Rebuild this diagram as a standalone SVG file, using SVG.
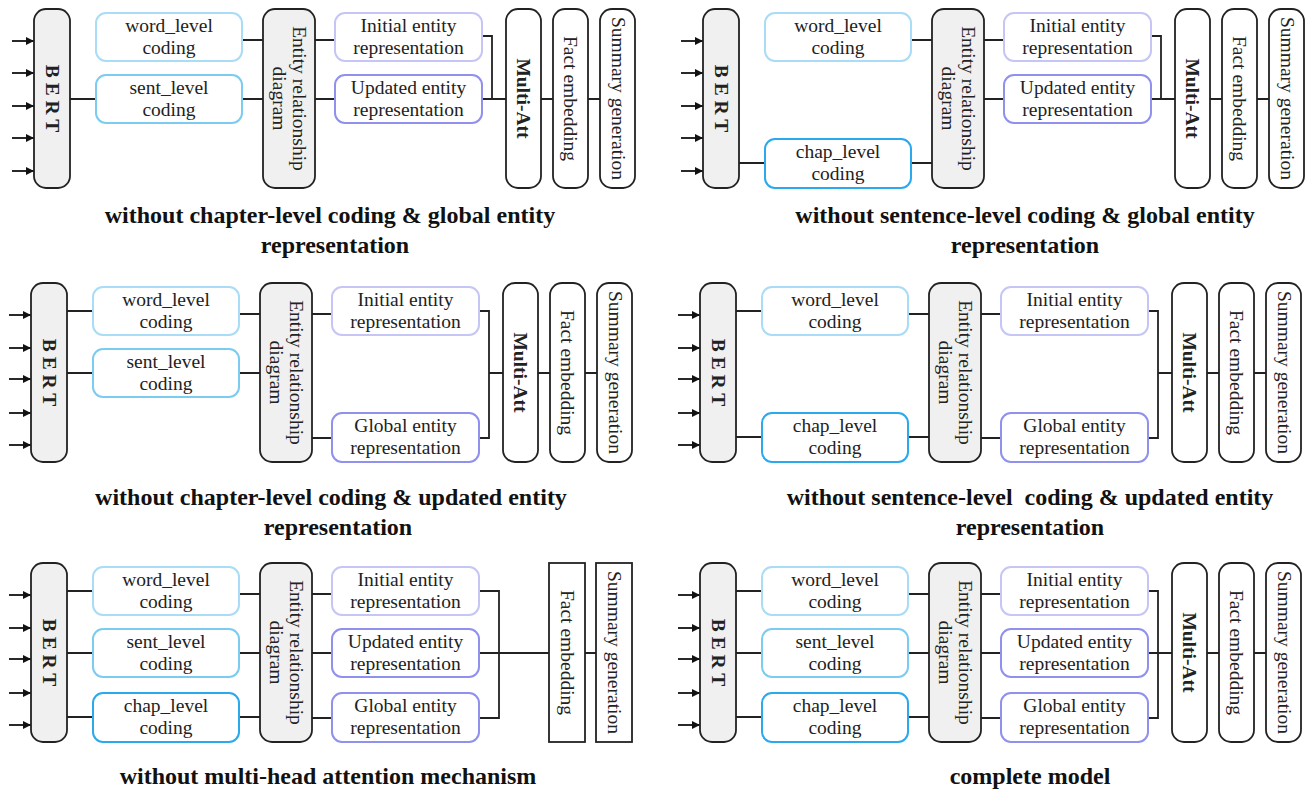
<svg xmlns="http://www.w3.org/2000/svg" width="1308" height="791" viewBox="0 0 1308 791">
  <style>
    .dark { fill:#f0f0f0; stroke:#222; stroke-width:1.8; }
    .white { fill:#fff; stroke:#222; stroke-width:1.8; }
    .word { fill:#fff; stroke:#a9dcf6; stroke-width:2; }
    .sent { fill:#fff; stroke:#7ccbf1; stroke-width:2; }
    .chap { fill:#fff; stroke:#2aa9ec; stroke-width:2; }
    .init { fill:#fff; stroke:#c6c6f6; stroke-width:2; }
    .upd  { fill:#fff; stroke:#9090ee; stroke-width:2; }
    .link { fill:none; stroke:#222; stroke-width:1.8; }
    .arrow { stroke:#111; stroke-width:1.8; marker-end:url(#arrowhead); }
    .lbl { font-family:"Liberation Serif","Times New Roman",serif; font-size:19.5px; fill:#222; text-anchor:middle; }
    .b { font-weight:bold; }
    .title { font-family:"Liberation Serif","Times New Roman",serif; font-size:24px; font-weight:bold; fill:#111; text-anchor:middle; }
  </style>
  <defs>
    <marker id="arrowhead" viewBox="0 0 10 10" refX="10" refY="5" markerWidth="9" markerHeight="8" markerUnits="userSpaceOnUse" orient="auto">
      <path d="M0,0 L10,5 L0,10 z" fill="#111"/>
    </marker>
  </defs>
  <rect width="1308" height="791" fill="#fff"/>

  <!-- Panel 1: without chapter-level coding & global entity representation -->
  <g id="panel1" transform="translate(34,9)">
    <g id="p1-connectors">
      <line class="arrow" x1="-22" y1="32" x2="0" y2="32"/>
      <line class="arrow" x1="-22" y1="64" x2="0" y2="64"/>
      <line class="arrow" x1="-22" y1="97" x2="0" y2="97"/>
      <line class="arrow" x1="-22" y1="129" x2="0" y2="129"/>
      <line class="arrow" x1="-22" y1="162" x2="0" y2="162"/>
      <path class="link" d="M36 90H62M208 31H229M208 90H229M281 31H301M281 90H301M448 27H458V90M448 90H472M507 90H519M554 90H566"/>
    </g>
    <g id="p1-bert"><rect class="dark" x="0" y="0" width="36" height="179" rx="12"/><text class="lbl b" transform="translate(11.5,89.5) rotate(90)">B E R T</text></g>
    <g id="p1-word"><rect class="word" x="62" y="4" width="146" height="48" rx="10"/><text class="lbl" x="135" y="23">word_level</text><text class="lbl" x="135" y="45">coding</text></g>
    <g id="p1-sent"><rect class="sent" x="62" y="66" width="146" height="48" rx="10"/><text class="lbl" x="135" y="85">sent_level</text><text class="lbl" x="135" y="107">coding</text></g>
    <g id="p1-er"><rect class="dark" x="229" y="0" width="52" height="179" rx="12"/><text class="lbl" transform="translate(258.5,89.5) rotate(90)"><tspan x="0" y="0">Entity relationship</tspan><tspan x="0" y="20">diagram</tspan></text></g>
    <g id="p1-initial"><rect class="init" x="301" y="4" width="147" height="48" rx="10"/><text class="lbl" x="374.5" y="23">Initial entity</text><text class="lbl" x="374.5" y="45">representation</text></g>
    <g id="p1-updated"><rect class="upd" x="301" y="66" width="147" height="48" rx="10"/><text class="lbl" x="374.5" y="85">Updated entity</text><text class="lbl" x="374.5" y="107">representation</text></g>
    <g id="p1-multiatt"><rect class="white" x="472" y="0" width="35" height="179" rx="12"/><text class="lbl b" transform="translate(483,89.5) rotate(90)">Multi-Att</text></g>
    <g id="p1-fact"><rect class="white" x="519" y="0" width="35" height="179" rx="12"/><text class="lbl" transform="translate(530,89.5) rotate(90)">Fact embedding</text></g>
    <g id="p1-summary"><rect class="white" x="566" y="0" width="35" height="179" rx="12"/><text class="lbl" transform="translate(577.5,89.5) rotate(90)">Summary generation</text></g>
  </g>

  <!-- Panel 2: without sentence-level coding & global entity representation -->
  <g id="panel2" transform="translate(703,9)">
    <g id="p2-connectors">
      <line class="arrow" x1="-22" y1="32" x2="0" y2="32"/>
      <line class="arrow" x1="-22" y1="64" x2="0" y2="64"/>
      <line class="arrow" x1="-22" y1="97" x2="0" y2="97"/>
      <line class="arrow" x1="-22" y1="129" x2="0" y2="129"/>
      <line class="arrow" x1="-22" y1="162" x2="0" y2="162"/>
      <path class="link" d="M36 154H62M208 31H229M208 154H229M281 31H301M281 90H301M448 27H458V90M448 90H472M507 90H519M554 90H566"/>
    </g>
    <g id="p2-bert"><rect class="dark" x="0" y="0" width="36" height="179" rx="12"/><text class="lbl b" transform="translate(11.5,89.5) rotate(90)">B E R T</text></g>
    <g id="p2-word"><rect class="word" x="62" y="4" width="146" height="48" rx="10"/><text class="lbl" x="135" y="23">word_level</text><text class="lbl" x="135" y="45">coding</text></g>
    <g id="p2-chap"><rect class="chap" x="62" y="130" width="146" height="49" rx="10"/><text class="lbl" x="135" y="149">chap_level</text><text class="lbl" x="135" y="171">coding</text></g>
    <g id="p2-er"><rect class="dark" x="229" y="0" width="52" height="179" rx="12"/><text class="lbl" transform="translate(258.5,89.5) rotate(90)"><tspan x="0" y="0">Entity relationship</tspan><tspan x="0" y="20">diagram</tspan></text></g>
    <g id="p2-initial"><rect class="init" x="301" y="4" width="147" height="48" rx="10"/><text class="lbl" x="374.5" y="23">Initial entity</text><text class="lbl" x="374.5" y="45">representation</text></g>
    <g id="p2-updated"><rect class="upd" x="301" y="66" width="147" height="48" rx="10"/><text class="lbl" x="374.5" y="85">Updated entity</text><text class="lbl" x="374.5" y="107">representation</text></g>
    <g id="p2-multiatt"><rect class="white" x="472" y="0" width="35" height="179" rx="12"/><text class="lbl b" transform="translate(483,89.5) rotate(90)">Multi-Att</text></g>
    <g id="p2-fact"><rect class="white" x="519" y="0" width="35" height="179" rx="12"/><text class="lbl" transform="translate(530,89.5) rotate(90)">Fact embedding</text></g>
    <g id="p2-summary"><rect class="white" x="566" y="0" width="35" height="179" rx="12"/><text class="lbl" transform="translate(577.5,89.5) rotate(90)">Summary generation</text></g>
  </g>

  <!-- Panel 3: without chapter-level coding & updated entity representation -->
  <g id="panel3" transform="translate(31,283)">
    <g id="p3-connectors">
      <line class="arrow" x1="-22" y1="32" x2="0" y2="32"/>
      <line class="arrow" x1="-22" y1="65" x2="0" y2="65"/>
      <line class="arrow" x1="-22" y1="96" x2="0" y2="96"/>
      <line class="arrow" x1="-22" y1="130" x2="0" y2="130"/>
      <line class="arrow" x1="-22" y1="162" x2="0" y2="162"/>
      <path class="link" d="M36 28H62M36 90H62M208 31H229M208 90H229M281 31H301M281 155H301M448 28H458V155H448M458 90H472M507 90H519M554 90H566"/>
    </g>
    <g id="p3-bert"><rect class="dark" x="0" y="0" width="36" height="179" rx="12"/><text class="lbl b" transform="translate(11.5,89.5) rotate(90)">B E R T</text></g>
    <g id="p3-word"><rect class="word" x="62" y="4" width="146" height="48" rx="10"/><text class="lbl" x="135" y="23">word_level</text><text class="lbl" x="135" y="45">coding</text></g>
    <g id="p3-sent"><rect class="sent" x="62" y="66" width="146" height="48" rx="10"/><text class="lbl" x="135" y="85">sent_level</text><text class="lbl" x="135" y="107">coding</text></g>
    <g id="p3-er"><rect class="dark" x="229" y="0" width="52" height="179" rx="12"/><text class="lbl" transform="translate(258.5,89.5) rotate(90)"><tspan x="0" y="0">Entity relationship</tspan><tspan x="0" y="20">diagram</tspan></text></g>
    <g id="p3-initial"><rect class="init" x="301" y="4" width="147" height="48" rx="10"/><text class="lbl" x="374.5" y="23">Initial entity</text><text class="lbl" x="374.5" y="45">representation</text></g>
    <g id="p3-global"><rect class="upd" x="301" y="130" width="147" height="49" rx="10"/><text class="lbl" x="374.5" y="149">Global entity</text><text class="lbl" x="374.5" y="171">representation</text></g>
    <g id="p3-multiatt"><rect class="white" x="472" y="0" width="35" height="179" rx="12"/><text class="lbl b" transform="translate(483,89.5) rotate(90)">Multi-Att</text></g>
    <g id="p3-fact"><rect class="white" x="519" y="0" width="35" height="179" rx="12"/><text class="lbl" transform="translate(530,89.5) rotate(90)">Fact embedding</text></g>
    <g id="p3-summary"><rect class="white" x="566" y="0" width="35" height="179" rx="12"/><text class="lbl" transform="translate(577.5,89.5) rotate(90)">Summary generation</text></g>
  </g>

  <!-- Panel 4: without sentence-level coding & updated entity representation -->
  <g id="panel4" transform="translate(700,283)">
    <g id="p4-connectors">
      <line class="arrow" x1="-22" y1="32" x2="0" y2="32"/>
      <line class="arrow" x1="-22" y1="65" x2="0" y2="65"/>
      <line class="arrow" x1="-22" y1="96" x2="0" y2="96"/>
      <line class="arrow" x1="-22" y1="130" x2="0" y2="130"/>
      <line class="arrow" x1="-22" y1="162" x2="0" y2="162"/>
      <path class="link" d="M36 28H62M36 154H62M208 31H229M208 154H229M281 31H301M281 155H301M448 28H458V155H448M458 90H472M507 90H519M554 90H566"/>
    </g>
    <g id="p4-bert"><rect class="dark" x="0" y="0" width="36" height="179" rx="12"/><text class="lbl b" transform="translate(11.5,89.5) rotate(90)">B E R T</text></g>
    <g id="p4-word"><rect class="word" x="62" y="4" width="146" height="48" rx="10"/><text class="lbl" x="135" y="23">word_level</text><text class="lbl" x="135" y="45">coding</text></g>
    <g id="p4-chap"><rect class="chap" x="62" y="130" width="146" height="49" rx="10"/><text class="lbl" x="135" y="149">chap_level</text><text class="lbl" x="135" y="171">coding</text></g>
    <g id="p4-er"><rect class="dark" x="229" y="0" width="52" height="179" rx="12"/><text class="lbl" transform="translate(258.5,89.5) rotate(90)"><tspan x="0" y="0">Entity relationship</tspan><tspan x="0" y="20">diagram</tspan></text></g>
    <g id="p4-initial"><rect class="init" x="301" y="4" width="147" height="48" rx="10"/><text class="lbl" x="374.5" y="23">Initial entity</text><text class="lbl" x="374.5" y="45">representation</text></g>
    <g id="p4-global"><rect class="upd" x="301" y="130" width="147" height="49" rx="10"/><text class="lbl" x="374.5" y="149">Global entity</text><text class="lbl" x="374.5" y="171">representation</text></g>
    <g id="p4-multiatt"><rect class="white" x="472" y="0" width="35" height="179" rx="12"/><text class="lbl b" transform="translate(483,89.5) rotate(90)">Multi-Att</text></g>
    <g id="p4-fact"><rect class="white" x="519" y="0" width="35" height="179" rx="12"/><text class="lbl" transform="translate(530,89.5) rotate(90)">Fact embedding</text></g>
    <g id="p4-summary"><rect class="white" x="566" y="0" width="35" height="179" rx="12"/><text class="lbl" transform="translate(577.5,89.5) rotate(90)">Summary generation</text></g>
  </g>

  <!-- Panel 5: without multi-head attention mechanism -->
  <g id="panel5" transform="translate(31,563)">
    <g id="p5-connectors">
      <line class="arrow" x1="-22" y1="32" x2="0" y2="32"/>
      <line class="arrow" x1="-22" y1="65" x2="0" y2="65"/>
      <line class="arrow" x1="-22" y1="96" x2="0" y2="96"/>
      <line class="arrow" x1="-22" y1="130" x2="0" y2="130"/>
      <line class="arrow" x1="-22" y1="162" x2="0" y2="162"/>
      <path class="link" d="M36 28H62M36 90H62M36 154H62M208 31H229M208 90H229M208 154H229M281 31H301M281 90H301M281 155H301M448 28H468V155H448M448 90H518M554 90H565"/>
    </g>
    <g id="p5-bert"><rect class="dark" x="0" y="0" width="36" height="179" rx="12"/><text class="lbl b" transform="translate(11.5,89.5) rotate(90)">B E R T</text></g>
    <g id="p5-word"><rect class="word" x="62" y="4" width="146" height="48" rx="10"/><text class="lbl" x="135" y="23">word_level</text><text class="lbl" x="135" y="45">coding</text></g>
    <g id="p5-sent"><rect class="sent" x="62" y="66" width="146" height="48" rx="10"/><text class="lbl" x="135" y="85">sent_level</text><text class="lbl" x="135" y="107">coding</text></g>
    <g id="p5-chap"><rect class="chap" x="62" y="130" width="146" height="49" rx="10"/><text class="lbl" x="135" y="149">chap_level</text><text class="lbl" x="135" y="171">coding</text></g>
    <g id="p5-er"><rect class="dark" x="229" y="0" width="52" height="179" rx="12"/><text class="lbl" transform="translate(258.5,89.5) rotate(90)"><tspan x="0" y="0">Entity relationship</tspan><tspan x="0" y="20">diagram</tspan></text></g>
    <g id="p5-initial"><rect class="init" x="301" y="4" width="147" height="48" rx="10"/><text class="lbl" x="374.5" y="23">Initial entity</text><text class="lbl" x="374.5" y="45">representation</text></g>
    <g id="p5-updated"><rect class="upd" x="301" y="66" width="147" height="48" rx="10"/><text class="lbl" x="374.5" y="85">Updated entity</text><text class="lbl" x="374.5" y="107">representation</text></g>
    <g id="p5-global"><rect class="upd" x="301" y="130" width="147" height="49" rx="10"/><text class="lbl" x="374.5" y="149">Global entity</text><text class="lbl" x="374.5" y="171">representation</text></g>
    <g id="p5-fact"><rect class="white" x="518" y="0" width="36" height="179"/><text class="lbl" transform="translate(529.5,89.5) rotate(90)">Fact embedding</text></g>
    <g id="p5-summary"><rect class="white" x="565" y="0" width="36" height="179"/><text class="lbl" transform="translate(577,89.5) rotate(90)">Summary generation</text></g>
  </g>

  <!-- Panel 6: complete model -->
  <g id="panel6" transform="translate(700,563)">
    <g id="p6-connectors">
      <line class="arrow" x1="-22" y1="32" x2="0" y2="32"/>
      <line class="arrow" x1="-22" y1="65" x2="0" y2="65"/>
      <line class="arrow" x1="-22" y1="96" x2="0" y2="96"/>
      <line class="arrow" x1="-22" y1="130" x2="0" y2="130"/>
      <line class="arrow" x1="-22" y1="162" x2="0" y2="162"/>
      <path class="link" d="M36 28H62M36 90H62M36 154H62M208 31H229M208 90H229M208 154H229M281 31H301M281 90H301M281 155H301M448 28H458V155H448M448 90H472M507 90H519M554 90H566"/>
    </g>
    <g id="p6-bert"><rect class="dark" x="0" y="0" width="36" height="179" rx="12"/><text class="lbl b" transform="translate(11.5,89.5) rotate(90)">B E R T</text></g>
    <g id="p6-word"><rect class="word" x="62" y="4" width="146" height="48" rx="10"/><text class="lbl" x="135" y="23">word_level</text><text class="lbl" x="135" y="45">coding</text></g>
    <g id="p6-sent"><rect class="sent" x="62" y="66" width="146" height="48" rx="10"/><text class="lbl" x="135" y="85">sent_level</text><text class="lbl" x="135" y="107">coding</text></g>
    <g id="p6-chap"><rect class="chap" x="62" y="130" width="146" height="49" rx="10"/><text class="lbl" x="135" y="149">chap_level</text><text class="lbl" x="135" y="171">coding</text></g>
    <g id="p6-er"><rect class="dark" x="229" y="0" width="52" height="179" rx="12"/><text class="lbl" transform="translate(258.5,89.5) rotate(90)"><tspan x="0" y="0">Entity relationship</tspan><tspan x="0" y="20">diagram</tspan></text></g>
    <g id="p6-initial"><rect class="init" x="301" y="4" width="147" height="48" rx="10"/><text class="lbl" x="374.5" y="23">Initial entity</text><text class="lbl" x="374.5" y="45">representation</text></g>
    <g id="p6-updated"><rect class="upd" x="301" y="66" width="147" height="48" rx="10"/><text class="lbl" x="374.5" y="85">Updated entity</text><text class="lbl" x="374.5" y="107">representation</text></g>
    <g id="p6-global"><rect class="upd" x="301" y="130" width="147" height="49" rx="10"/><text class="lbl" x="374.5" y="149">Global entity</text><text class="lbl" x="374.5" y="171">representation</text></g>
    <g id="p6-multiatt"><rect class="white" x="472" y="0" width="35" height="179" rx="12"/><text class="lbl b" transform="translate(483,89.5) rotate(90)">Multi-Att</text></g>
    <g id="p6-fact"><rect class="white" x="519" y="0" width="35" height="179" rx="12"/><text class="lbl" transform="translate(530,89.5) rotate(90)">Fact embedding</text></g>
    <g id="p6-summary"><rect class="white" x="566" y="0" width="35" height="179" rx="12"/><text class="lbl" transform="translate(577.5,89.5) rotate(90)">Summary generation</text></g>
  </g>

  <!-- Panel captions -->
  <g id="captions">
    <text class="title" x="330" y="223">without chapter-level coding &amp; global entity</text>
    <text class="title" x="335" y="253">representation</text>
    <text class="title" x="1025" y="223">without sentence-level coding &amp; global entity</text>
    <text class="title" x="1025" y="253">representation</text>
    <text class="title" x="331" y="505">without chapter-level coding &amp; updated entity</text>
    <text class="title" x="338" y="535">representation</text>
    <text class="title" x="1030" y="505" xml:space="preserve">without sentence-level  coding &amp; updated entity</text>
    <text class="title" x="1030" y="535">representation</text>
    <text class="title" x="328" y="784">without multi-head attention mechanism</text>
    <text class="title" x="1030" y="784">complete model</text>
  </g>
</svg>
